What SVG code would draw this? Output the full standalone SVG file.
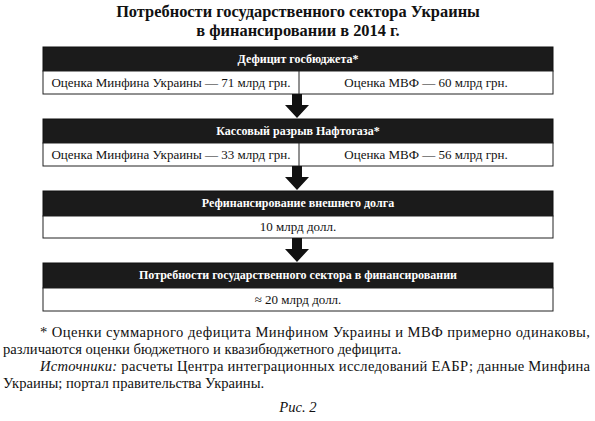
<svg xmlns="http://www.w3.org/2000/svg" width="595" height="421" viewBox="0 0 595 421">
<style>
.title{font-family:"Liberation Serif",serif;font-weight:bold;font-size:16.4px;fill:#111;text-anchor:middle}
.hdr{fill:#1b1b1b;stroke:#111;stroke-width:1}
.row{fill:#fff;stroke:#222;stroke-width:1}
.ht{font-family:"Liberation Serif",serif;font-weight:bold;font-size:12px;fill:#fff;text-anchor:middle}
.rt{font-family:"Liberation Serif",serif;font-size:13px;fill:#111;text-anchor:middle}
.fn{font-family:"Liberation Serif",serif;font-size:14.6px;fill:#111}
.arrow{fill:#111}
</style>
<rect width="595" height="421" fill="#fff"/>
<text class="title" x="298" y="17">Потребности государственного сектора Украины</text>
<text class="title" x="298" y="36">в финансировании в 2014 г.</text>

<g id="node1">
<rect class="hdr" x="43" y="47" width="510" height="24"/>
<text class="ht" x="298" y="63">Дефицит госбюджета*</text>
<rect class="row" x="43" y="71" width="510" height="23"/>
<line x1="299" y1="71" x2="299" y2="94" stroke="#222"/>
<text class="rt" x="171" y="87">Оценка Минфина Украины — 71 млрд грн.</text>
<text class="rt" x="426" y="87">Оценка МВФ — 60 млрд грн.</text>
</g>

<g id="node2">
<rect class="hdr" x="43" y="119" width="510" height="24"/>
<text class="ht" x="298" y="135">Кассовый разрыв Нафтогаза*</text>
<rect class="row" x="43" y="143" width="510" height="23"/>
<line x1="299" y1="143" x2="299" y2="166" stroke="#222"/>
<text class="rt" x="171" y="159">Оценка Минфина Украины — 33 млрд грн.</text>
<text class="rt" x="426" y="159">Оценка МВФ — 56 млрд грн.</text>
</g>

<g id="node3">
<rect class="hdr" x="43" y="191" width="510" height="25"/>
<text class="ht" x="298" y="207">Рефинансирование внешнего долга</text>
<rect class="row" x="43" y="216" width="510" height="22"/>
<text class="rt" x="298" y="231">10 млрд долл.</text>
</g>

<g id="node4">
<rect class="hdr" x="43" y="263" width="510" height="25"/>
<text class="ht" x="298" y="279">Потребности государственного сектора в финансировании</text>
<rect class="row" x="43" y="288" width="510" height="23"/>
<text class="rt" x="298" y="304">≈ 20 млрд долл.</text>
</g>

<g id="connectors">
<polygon class="arrow" points="292,94 302,94 302,105 309,105 297,118 285,105 292,105"/>
<polygon class="arrow" points="292,166 302,166 302,177 309,177 297,190 285,177 292,177"/>
<polygon class="arrow" points="292,238 302,238 302,249 309,249 297,262 285,249 292,249"/>
</g>

<text class="fn" x="40" y="337" textLength="550" lengthAdjust="spacing">* Оценки суммарного дефицита Минфином Украины и МВФ примерно одинаковы,</text>
<text class="fn" x="3" y="354">различаются оценки бюджетного и квазибюджетного дефицита.</text>
<text class="fn" x="40" y="371" textLength="550" lengthAdjust="spacing"><tspan font-style="italic">Источники:</tspan> расчеты Центра интеграционных исследований ЕАБР; данные Минфина</text>
<text class="fn" x="3" y="388">Украины; портал правительства Украины.</text>
<text class="fn" x="298" y="412" text-anchor="middle" font-style="italic" font-size="16.5">Рис. 2</text>
</svg>
